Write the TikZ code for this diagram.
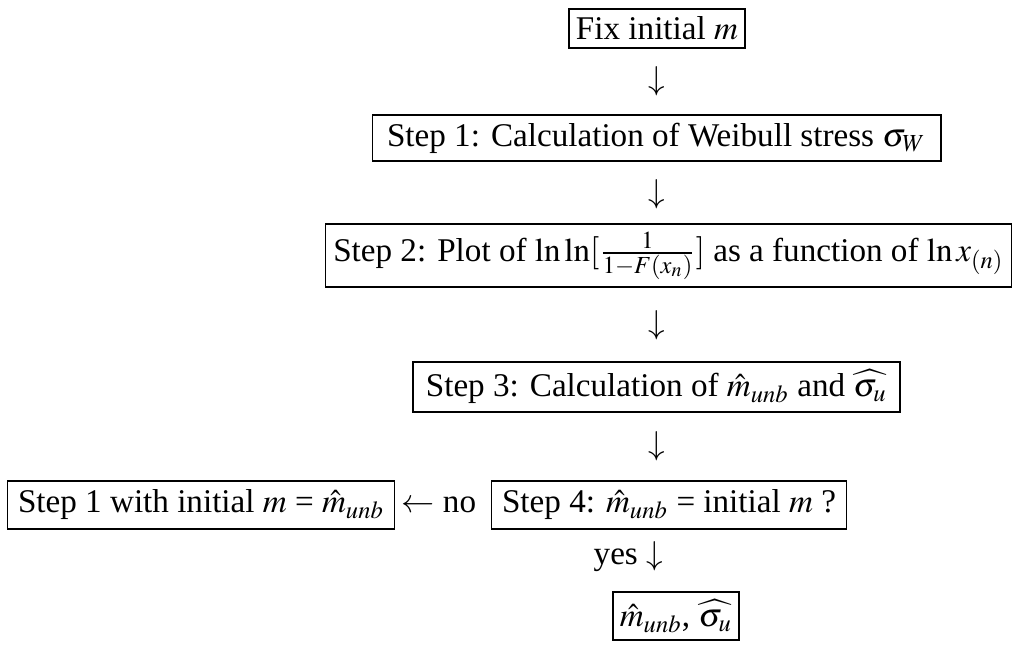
\documentclass[tikz,border=0pt,12pt]{standalone}
\usepackage{mathptmx}
\usepackage[no-math]{fontspec}
\setmainfont{Liberation Serif}
\usetikzlibrary{positioning}

\begin{document}
\begin{tikzpicture}
  [x=0.35pt,y=-0.35pt,
   every node/.style={inner sep=2pt,font=\fontsize{11.6}{14}\selectfont},
   box/.style={draw,line width=0.5pt,minimum height=16.1pt}]
  \useasboundingbox (0,0) rectangle (1013,649);

  \node[box,minimum height=13.6pt,inner xsep=2.4pt] (fix) at (657,28.5) {Fix initial $m$};
  \node[box,minimum width=199pt] (s1) at (656.5,138) {Step 1: Calculation of Weibull stress $\sigma_W$};
  \node[box,minimum width=240pt,minimum height=22pt] (s2) at (668.5,255.5)
    {Step 2: Plot of $\ln\ln[\frac{1}{1-F(x_n)}]$ as a function of $\ln x_{(n)}$};
  \node[box,minimum width=170.5pt,minimum height=17.5pt] (s3) at (656.5,387)
    {Step 3: Calculation of $\hat{m}_{unb}$ and $\widehat{\sigma_u}$};
  \node[box,minimum height=16.8pt,inner xsep=3.6pt,anchor=east] (s4) at (847,505)
    {Step 4: $\hat{m}_{unb}$ = initial $m$ ?};
  \node[box,minimum height=16.8pt,inner xsep=3.6pt,anchor=west] (redo) at (7,505)
    {Step 1 with initial $m$ = $\hat{m}_{unb}$};
  \node[box,minimum height=16.8pt,inner xsep=2.4pt] (res) at (676,616) {$\hat{m}_{unb}$, $\widehat{\sigma_u}$};

  \foreach \n/\y in {a1/81,a2/194,a3/325,a4/446}
    \node (\n) at (657,\y) {$\downarrow$};
  \node[right=0pt of redo] (no) {$\leftarrow$ no};
  \node[anchor=east] (yes) at (669,557) {yes $\downarrow$};

\end{tikzpicture}
\end{document}
